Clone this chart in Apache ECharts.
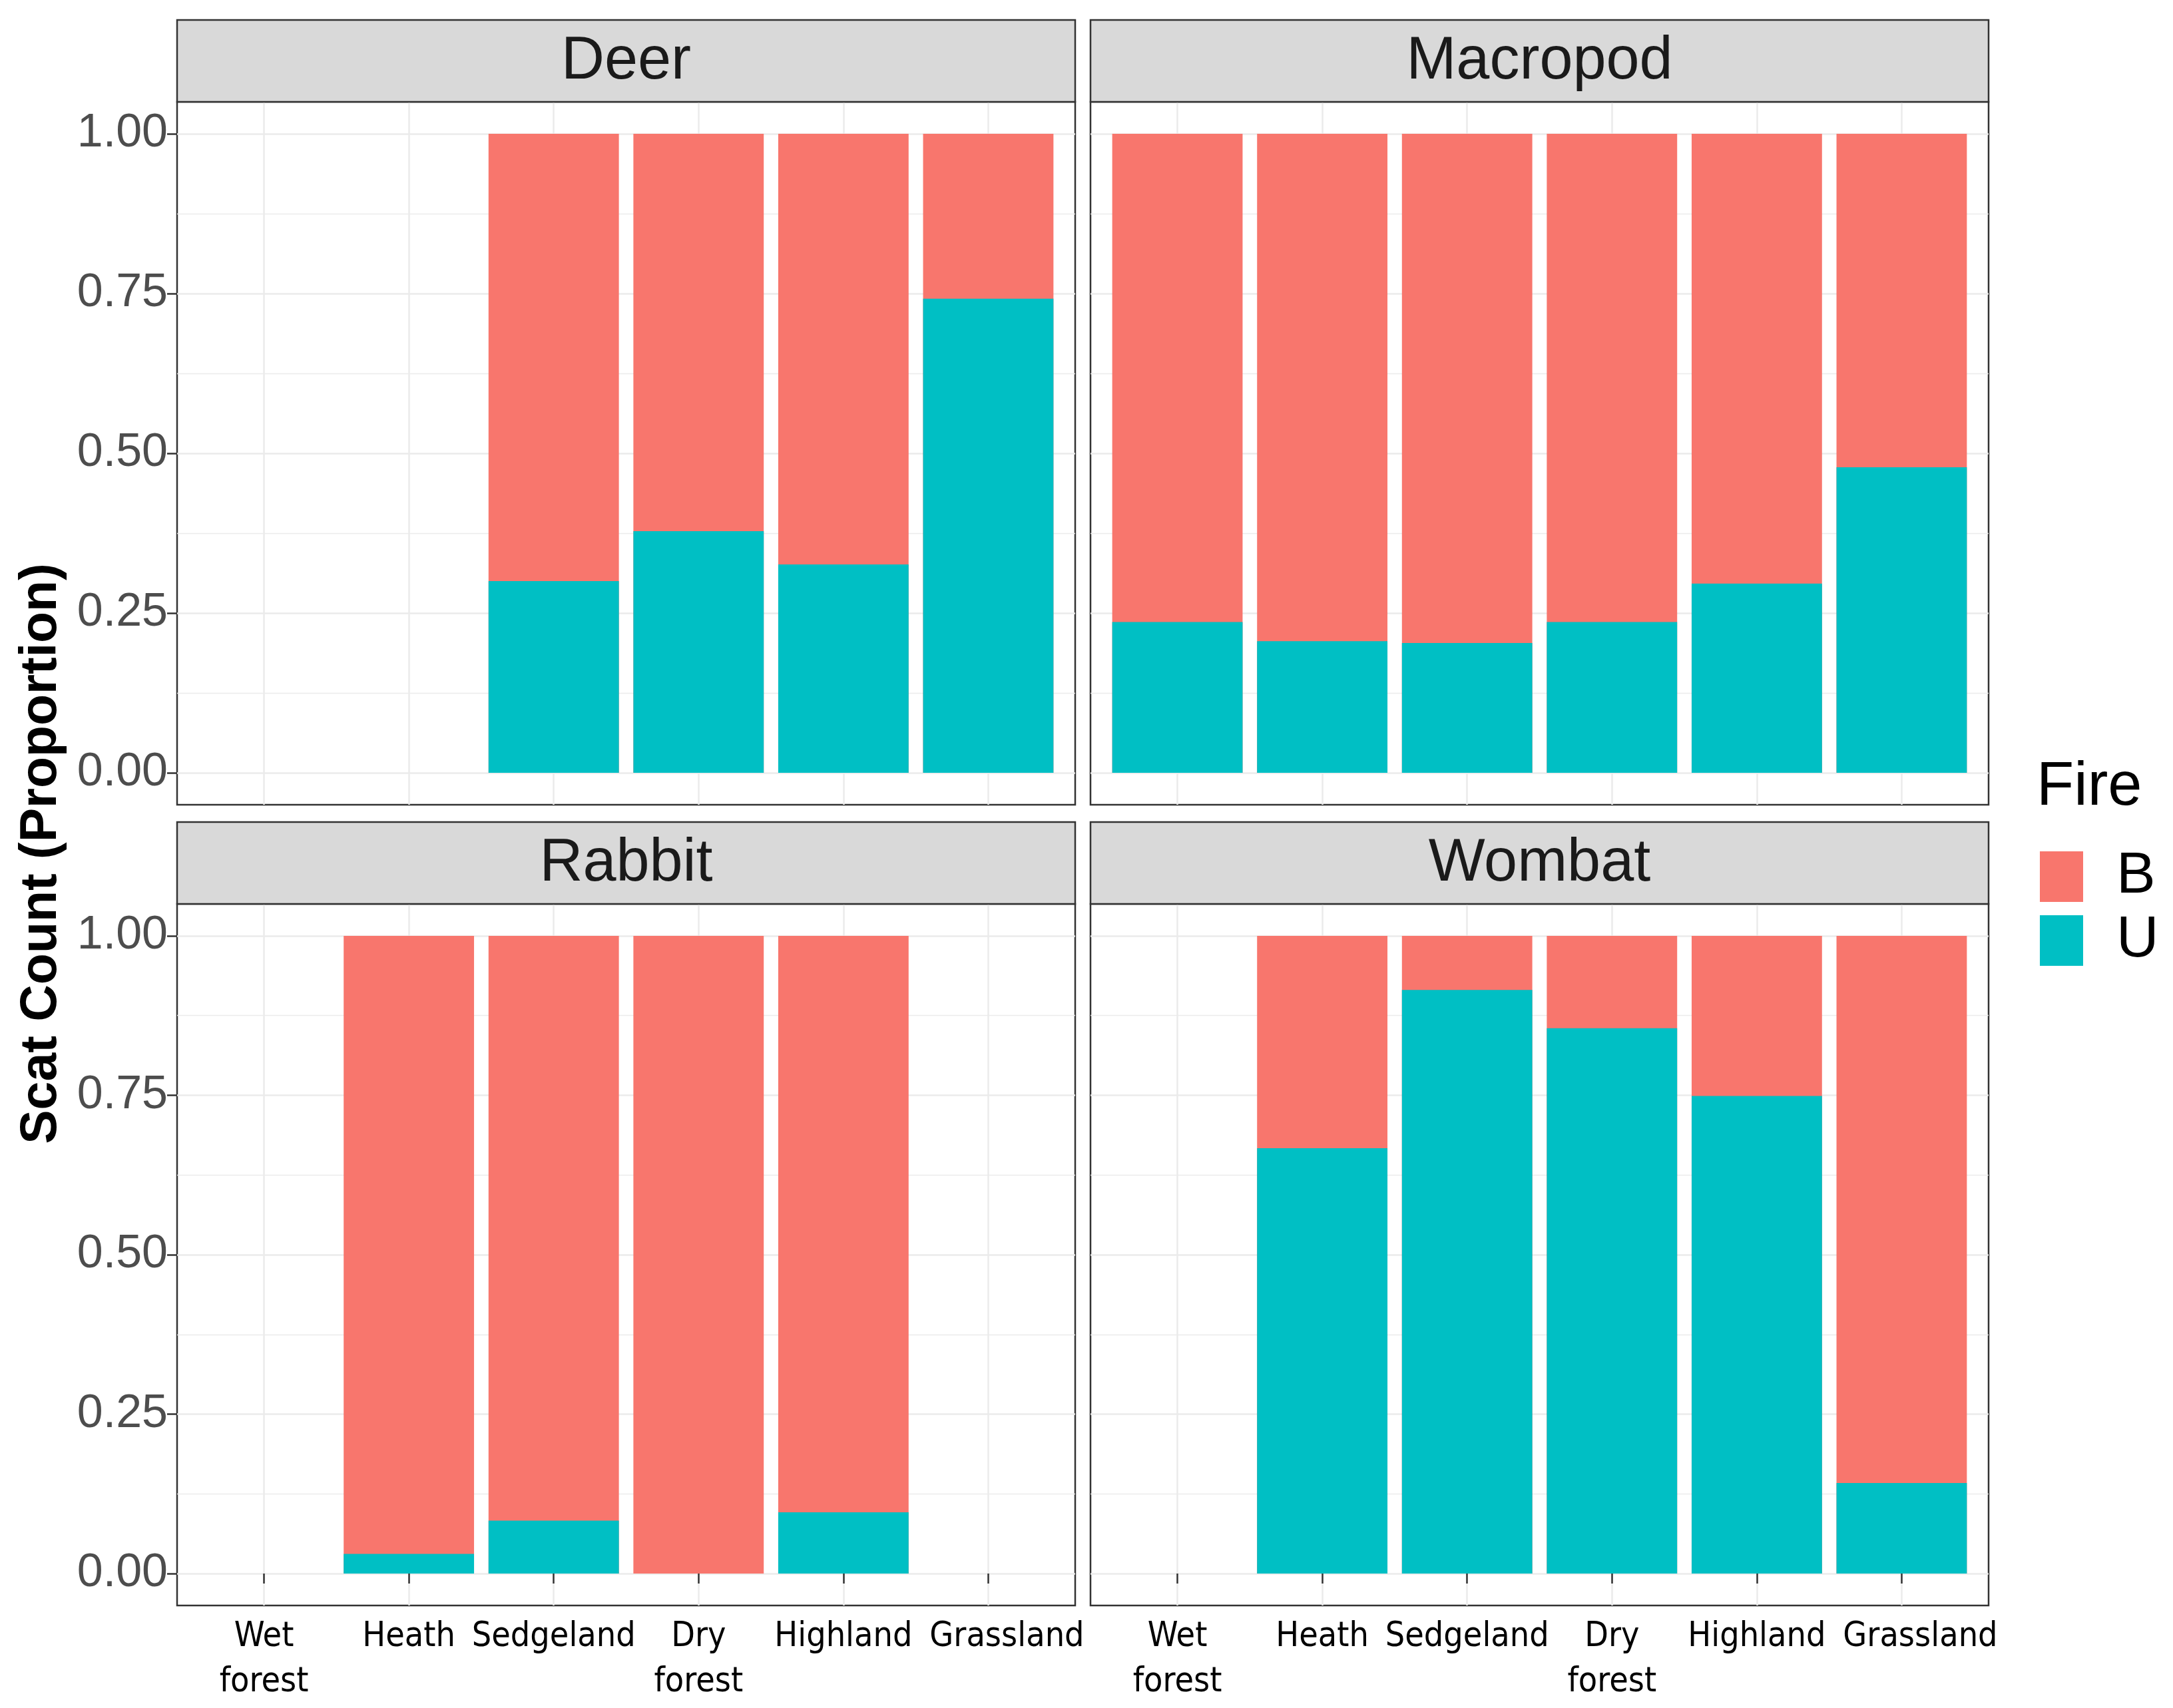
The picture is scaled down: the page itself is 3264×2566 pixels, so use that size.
<!DOCTYPE html>
<html><head><meta charset="utf-8">
<script src="https://cdn.jsdelivr.net/npm/echarts@6/dist/echarts.min.js"></script>
<style>html,body{margin:0;padding:0;background:#fff}#c{width:3264px;height:2566px}</style>
</head><body><div id="c"></div>
<script>
// ---- data ----
const categories = ['Wet\nforest', 'Heath', 'Sedgeland', 'Dry\nforest', 'Highland', 'Grassland'];
const panels = ['Deer', 'Macropod', 'Rabbit', 'Wombat'];
const yTicks = [0, 0.25, 0.5, 0.75, 1];
const yMinor = [0.125, 0.375, 0.625, 0.875];
const fireLevels = ['B', 'U'];
const deerU     = [null, null, 0.300, 0.378, 0.326, 0.742];
const deerB     = [null, null, 0.700, 0.622, 0.674, 0.258];
const macropodU = [0.236, 0.206, 0.203, 0.236, 0.296, 0.478];
const macropodB = [0.764, 0.794, 0.797, 0.764, 0.704, 0.522];
const rabbitU   = [null, 0.031, 0.083, 0.000, 0.096, null];
const rabbitB   = [null, 0.969, 0.917, 1.000, 0.904, null];
const wombatU   = [null, 0.667, 0.915, 0.855, 0.749, 0.142];
const wombatB   = [null, 0.333, 0.085, 0.145, 0.251, 0.858];

const seriesU = [deerU, macropodU, rabbitU, wombatU];
const seriesB = [deerB, macropodB, rabbitB, wombatB];

// ---- fonts: pick a condensed face for x labels if one is installed ----
const FONT = "'Liberation Sans', Arial, sans-serif";
const cv = document.createElement('canvas').getContext('2d');
function widthOf(txt, fam) { cv.font = '60px ' + fam; return cv.measureText(txt).width; }
function hasFont(name) {
  return ['monospace', 'serif'].some(b => widthOf('Sedgeland Highland', "'" + name + "', " + b) !== widthOf('Sedgeland Highland', b));
}
let xFont = FONT;
for (const f of ['Liberation Sans Narrow', 'DejaVu Sans Condensed', 'Roboto Condensed', 'Open Sans Condensed']) {
  if (hasFont(f)) { xFont = "'" + f + "', " + FONT; break; }
}
const xFontSize = Math.min(64, 60 * 246 / widthOf('Sedgeland', xFont));

// ---- layout ----
const colL = [266, 1638];
const colW = 1349;
const rowT = [153, 1358];
const rowH = [1056, 1054];
const stripH = 123;
const xMin = 0.4, xMax = 6.6;
const catPos = categories.map((c, i) => i + 1);
// blank labels at the axis ends keep the min/max overlap check away from real labels
const labelPos = [xMin].concat(catPos, [xMax]);
const lastCat = categories.length;
const barW = 0.9 * colW / (xMax - xMin);
const colors = { B: '#F8766D', U: '#00BFC4' };

const grids = [], xAxes = [], yAxes = [], series = [], graphics = [];
panels.forEach((name, i) => {
  const col = i % 2, row = Math.floor(i / 2);
  grids.push({
    left: colL[col], top: rowT[row], width: colW, height: rowH[row],
    show: true, borderColor: '#333333', borderWidth: 2.5, backgroundColor: '#ffffff',
    containLabel: false
  });
  xAxes.push({
    type: 'value', gridIndex: i, min: xMin, max: xMax,
    axisLine: { show: false },
    axisTick: { show: row === 1, customValues: catPos, length: 15, lineStyle: { color: '#333333', width: 2.5 } },
    axisLabel: {
      show: row === 1, customValues: labelPos, margin: 14,
      hideOverlap: false,
      formatter: v => {
        const k = Math.round(v);
        if (!(Math.abs(v - k) < 1e-6 && categories[k - 1])) return '';
        return k === lastCat ? '{g|' + categories[k - 1] + '}' : categories[k - 1];
      },
      rich: { g: { padding: [0, 0, 0, 56], fontSize: xFontSize, fontFamily: xFont, color: '#000000', lineHeight: 68 } },
      fontSize: xFontSize, lineHeight: 68, color: '#000000', fontFamily: xFont
    },
    splitLine: { show: true, lineStyle: { color: '#EBEBEB', width: 2.5 } }
  });
  yAxes.push({
    type: 'value', gridIndex: i, min: -0.05, max: 1.05,
    axisLine: { show: false },
    axisTick: { show: col === 0, customValues: yTicks, length: 15, lineStyle: { color: '#333333', width: 2.5 } },
    axisLabel: {
      show: col === 0, customValues: yTicks, margin: 14,
      showMinLabel: true, showMaxLabel: true,
      formatter: v => v.toFixed(2), fontSize: 70, color: '#4D4D4D', fontFamily: FONT
    },
    splitLine: { show: true, lineStyle: { color: '#EBEBEB', width: 2.5 } }
  });
  yAxes.push({
    type: 'value', gridIndex: i, min: -0.05, max: 1.05,
    axisLine: { show: false },
    axisTick: { show: false, customValues: yMinor },
    axisLabel: { show: false, customValues: yMinor },
    splitLine: { show: true, lineStyle: { color: '#EBEBEB', width: 1.4 } }
  });
  // proportional stack (position = "fill"): B sits on top of U, so B's bar spans 0..U+B
  const U = seriesU[i], B = seriesB[i];
  const topB = catPos.map((x, k) => [x, (U[k] == null || B[k] == null) ? null : U[k] + B[k]]);
  const topU = catPos.map((x, k) => [x, U[k] == null ? null : U[k]]);
  series.push({
    name: 'B', type: 'bar', xAxisIndex: i, yAxisIndex: 2 * i, z: 2,
    barWidth: barW, barGap: '-100%', itemStyle: { color: colors.B }, data: topB, silent: true
  });
  series.push({
    name: 'U', type: 'bar', xAxisIndex: i, yAxisIndex: 2 * i, z: 3,
    barWidth: barW, barGap: '-100%', itemStyle: { color: colors.U }, data: topU, silent: true
  });
  // facet strip
  graphics.push({
    type: 'rect', shape: { x: colL[col], y: rowT[row] - stripH, width: colW, height: stripH },
    style: { fill: '#D9D9D9', stroke: '#333333', lineWidth: 2.5 }, z: 10
  });
  graphics.push({
    type: 'text', x: colL[col] + colW / 2, y: rowT[row] - stripH / 2 + 2, z: 11,
    style: { text: name, fontSize: 90, fontFamily: FONT, fill: '#1A1A1A', align: 'center', verticalAlign: 'middle' }
  });
});

graphics.push({
  type: 'text', x: 63, y: (rowT[0] + rowT[1] + rowH[1]) / 2, rotation: Math.PI / 2, z: 11,
  style: { text: 'Scat Count (Proportion)', fontSize: 77, fontWeight: 'bold', fontFamily: FONT,
           fill: '#000000', align: 'center', verticalAlign: 'middle' }
});
graphics.push({
  type: 'text', x: 3059, y: 1184, z: 11,
  style: { text: 'Fire', fontSize: 92, fontFamily: FONT, fill: '#000000', align: 'left', verticalAlign: 'middle' }
});

const chart = echarts.init(document.getElementById('c'), null, { renderer: 'canvas' });
chart.setOption({
  animation: false,
  backgroundColor: '#ffffff',
  textStyle: { fontFamily: FONT },
  grid: grids, xAxis: xAxes, yAxis: yAxes, series: series,
  legend: {
    data: fireLevels, orient: 'vertical', left: 3059, top: 1268,
    itemWidth: 65, itemHeight: 76, itemGap: 8, icon: 'rect', selectedMode: false,
    textStyle: { fontSize: 88, color: '#000000', fontFamily: FONT, padding: [0, 0, 0, 45] }
  },
  graphic: graphics
});
</script></body></html>
